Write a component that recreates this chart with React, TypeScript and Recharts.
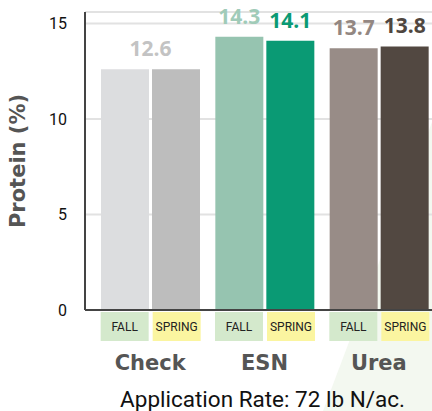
import { BarChart, Bar, XAxis, YAxis, CartesianGrid, LabelList, Cell } from 'recharts'

const CATEGORIAS = ['Check', 'ESN', 'Urea']
const OTONO = [12.6, 14.3, 13.7]
const PRIMAVERA = [12.6, 14.1, 13.8]
const TICKS_Y = [0, 5, 10, 15]

const COLOR_OTONO = ['#dcdddf', '#96c4b0', '#988c87']
const COLOR_PRIMAVERA = ['#bdbdbd', '#0a9a74', '#524841']
const LABEL_OTONO = ['#c3c3c3', '#a0cbb8', '#938782']
const LABEL_PRIMAVERA = ['#c3c3c3', '#0a9a74', '#4f4640']

const datos = CATEGORIAS.map((c, i) => ({ cat: c, fall: OTONO[i], spring: PRIMAVERA[i] }))

const BOLD = '"DejaVu Sans", sans-serif'
const NUM = '"Open Sans", sans-serif'
const TXT = 'Roboto, sans-serif'

function etiqueta(colores: string[], serie: 'fall' | 'spring') {
  return (props: any) => {
    const { x, y, width, value, index } = props
    // Check tiene un solo valor, centrado en el grupo
    if (index === 0 && serie === 'fall') return null
    let cx = x + width / 2
    if (index === 0) cx = x - 1.5
    return (
      <text x={cx} y={y - 13} textAnchor="middle" fill={colores[index]}
        style={{ fontFamily: NUM, fontWeight: 700, fontSize: 21 }}>
        {value}
      </text>
    )
  }
}

function TickCategoria(props: any) {
  const { x, y, payload } = props
  return (
    <g>
      <rect x={x - 49.5} y={y + 2} width={48} height={29} fill="#d4e9cc" />
      <rect x={x + 2.5} y={y + 2} width={48} height={29} fill="#fbf5a0" />
      <text x={x - 25.5} y={y + 21} textAnchor="middle" fill="#222"
        style={{ fontFamily: TXT, fontSize: 12 }}>FALL</text>
      <text x={x + 26.5} y={y + 21} textAnchor="middle" fill="#222"
        style={{ fontFamily: TXT, fontSize: 12 }}>SPRING</text>
      <text x={x} y={y + 60} textAnchor="middle" fill="#555"
        style={{ fontFamily: BOLD, fontWeight: 700, fontSize: 21 }}>
        {payload.value}
      </text>
    </g>
  )
}

export default function App() {
  return (
    <div style={{ position: 'absolute', left: 0, top: 0, width: 432, height: 411, overflow: 'hidden', background: '#fff' }}>
      <svg width={432} height={411} style={{ position: 'absolute', left: 0, top: 0 }}>
        <polygon points="323,411 432,122 432,411" fill="#f3f8f0" />
      </svg>
      <div style={{ position: 'absolute', left: 0, top: 0 }}>
        <BarChart width={436} height={411} data={datos}
          margin={{ top: 12, right: 0, bottom: 0, left: 0 }}
          barCategoryGap={15} barGap={3}>
          <CartesianGrid vertical={false} stroke="#e2e2e2" strokeWidth={2} />
          <YAxis
            domain={[0, 15.6]}
            ticks={TICKS_Y}
            width={85}
            tickLine={false}
            axisLine={{ stroke: '#444', strokeWidth: 2 }}
            tick={{ fill: '#111', fontSize: 16, fontFamily: TXT }}
            tickMargin={12}
            label={{
              value: 'Protein (%)', angle: -90, position: 'insideLeft', offset: 18,
              style: { fill: '#555', fontFamily: BOLD, fontWeight: 700, fontSize: 21, textAnchor: 'middle' },
            }}
          />
          <XAxis
            dataKey="cat"
            height={101}
            padding={{ left: 8, right: 0 }}
            tickLine={false}
            tickSize={0}
            tickMargin={0}
            axisLine={{ stroke: '#444', strokeWidth: 2 }}
            tick={<TickCategoria />}
            interval={0}
            label={{
              value: 'Application Rate: 72 lb N/ac.', position: 'insideBottom', offset: 4, dx: 2,
              style: { fill: '#111', fontFamily: TXT, fontSize: 22.5 },
            }}
          />
          <Bar dataKey="fall" barSize={48} isAnimationActive={false}>
            {datos.map((_, i) => (
              <Cell key={i} fill={COLOR_OTONO[i]} />
            ))}
            <LabelList dataKey="fall" content={etiqueta(LABEL_OTONO, 'fall')} />
          </Bar>
          <Bar dataKey="spring" barSize={48} isAnimationActive={false}>
            {datos.map((_, i) => (
              <Cell key={i} fill={COLOR_PRIMAVERA[i]} />
            ))}
            <LabelList dataKey="spring" content={etiqueta(LABEL_PRIMAVERA, 'spring')} />
          </Bar>
        </BarChart>
      </div>
    </div>
  )
}
